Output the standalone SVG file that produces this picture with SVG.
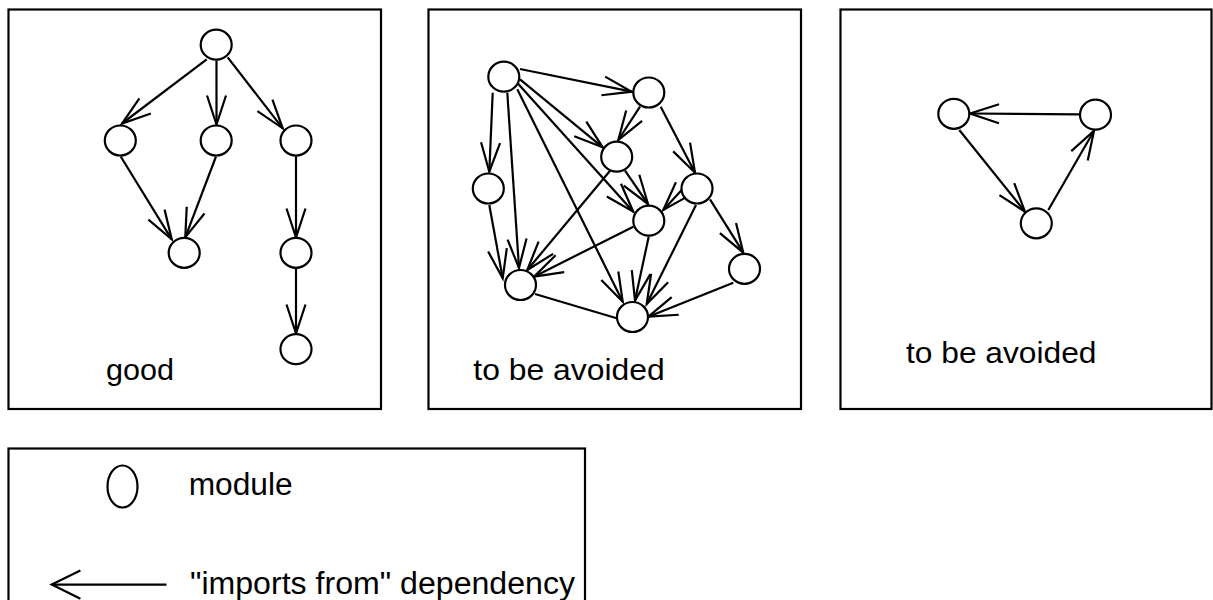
<svg xmlns="http://www.w3.org/2000/svg" width="1213" height="600" viewBox="0 0 1213 600">
  <style>
    .frame { fill: none; stroke: #000; stroke-width: 2.2; }
    .mod { fill: #fff; stroke: #000; stroke-width: 2.2; }
    .dep { fill: none; stroke: #000; stroke-width: 2.2; marker-end: url(#ah); }
    .plain { fill: none; stroke: #000; stroke-width: 2.2; }
    .lbl { font-family: "Liberation Sans", Arial, sans-serif; font-size: 29px; fill: #000; }
    .leg { font-family: "Liberation Sans", Arial, sans-serif; font-size: 31px; fill: #000; }
  </style>
  <defs>
    <marker id="ah" markerUnits="userSpaceOnUse" viewBox="-32 -15 40 30" markerWidth="40" markerHeight="30" refX="0" refY="0" orient="auto" overflow="visible">
      <path d="M-29,-9.5 L0,0 L-29,9.5" fill="none" stroke="#000" stroke-width="2.2"/>
    </marker>
  </defs>
  <rect width="1213" height="600" fill="#fff"/>

  <!-- panel frames -->
  <g id="frames">
    <rect class="frame" x="8.5" y="9.5" width="372.5" height="399.5"/>
    <rect class="frame" x="428.5" y="9.5" width="372.5" height="399.5"/>
    <rect class="frame" x="840.5" y="9.5" width="371" height="399.5"/>
    <rect class="frame" x="8.5" y="448.5" width="576.5" height="170"/>
  </g>

  <!-- dependency arrows -->
  <g id="connectors">
    <!-- tree -->
    <path class="dep" d="M206.7,59.3 L122,123.5"/>
    <path class="dep" d="M216.5,60.5 L216.5,124.5"/>
    <path class="dep" d="M227.7,57.3 L282.7,128.3"/>
    <path class="dep" d="M120.7,156.5 L171.7,239.3"/>
    <path class="dep" d="M216,156.5 L185.3,237.3"/>
    <path class="dep" d="M296,156 L296,237.5"/>
    <path class="dep" d="M296,268.3 L296,333.5"/>
    <!-- tangled graph -->
    <path class="dep" d="M520,69 L631.7,91.7"/>
    <path class="dep" d="M492.7,92.7 L489.3,171.7"/>
    <path class="dep" d="M507.3,92.7 L519,268"/>
    <path class="dep" d="M517.3,89.3 L622.7,301.7"/>
    <path class="dep" d="M520,79.3 L602.7,147.3"/>
    <path class="dep" d="M518.3,84 L633.3,211.7"/>
    <path class="dep" d="M640,106.7 L618.3,140"/>
    <path class="dep" d="M660.7,106.7 L695,172.7"/>
    <path class="dep" d="M610.7,170 L527.3,270"/>
    <path class="dep" d="M625,170.7 L648,204"/>
    <path class="dep" d="M489.3,205 L502.7,278.3"/>
    <path class="dep" d="M681.7,190 L663.3,210"/>
    <path class="dep" d="M710,199.3 L743.3,252.7"/>
    <path class="dep" d="M696,205 L646.7,304"/>
    <path class="dep" d="M633.3,226.7 L534,276.7"/>
    <path class="dep" d="M648.7,236.7 L635,300.5"/>
    <path class="dep" d="M733.3,282.7 L648.3,316.7"/>
    <path class="plain" d="M535,294 L616.7,318.3"/>
    <!-- cycle -->
    <path class="dep" d="M1079.3,114.3 L970,113.5"/>
    <path class="dep" d="M959.3,130 L1025,211.7"/>
    <path class="dep" d="M1048.3,210 L1094,130.7"/>
  </g>

  <!-- modules: tree -->
  <g id="tree-nodes">
    <ellipse id="t1" class="mod" cx="216.2" cy="44.7" rx="15.5" ry="15"/>
    <ellipse id="t2" class="mod" cx="120.3" cy="140.5" rx="15.5" ry="15"/>
    <ellipse id="t3" class="mod" cx="216.2" cy="140.5" rx="15.5" ry="15"/>
    <ellipse id="t4" class="mod" cx="296" cy="140.5" rx="15.5" ry="15"/>
    <ellipse id="t5" class="mod" cx="184.2" cy="252.8" rx="15.5" ry="15"/>
    <ellipse id="t6" class="mod" cx="296" cy="252.8" rx="15.5" ry="15"/>
    <ellipse id="t7" class="mod" cx="296" cy="349.2" rx="15.5" ry="15"/>
  </g>

  <!-- modules: tangled graph -->
  <g id="mesh-nodes">
    <ellipse id="m1" class="mod" cx="503.8" cy="76.7" rx="15.5" ry="15"/>
    <ellipse id="m2" class="mod" cx="648.8" cy="92.5" rx="15.5" ry="15"/>
    <ellipse id="m3" class="mod" cx="616.7" cy="156.7" rx="15.5" ry="15"/>
    <ellipse id="m4" class="mod" cx="488.3" cy="188.5" rx="15.5" ry="15"/>
    <ellipse id="m5" class="mod" cx="697" cy="188.5" rx="15.5" ry="15"/>
    <ellipse id="m6" class="mod" cx="648.8" cy="220.7" rx="15.5" ry="15"/>
    <ellipse id="m7" class="mod" cx="744.5" cy="268.8" rx="15.5" ry="15"/>
    <ellipse id="m8" class="mod" cx="520.5" cy="285" rx="15.5" ry="15"/>
    <ellipse id="m9" class="mod" cx="632.5" cy="317" rx="15.5" ry="15"/>
  </g>

  <!-- modules: cycle -->
  <g id="cycle-nodes">
    <ellipse id="c1" class="mod" cx="953.8" cy="113.8" rx="15.5" ry="15"/>
    <ellipse id="c2" class="mod" cx="1095.5" cy="114.7" rx="15.5" ry="15"/>
    <ellipse id="c3" class="mod" cx="1036.3" cy="223.3" rx="15.5" ry="15"/>
  </g>

  <!-- captions -->
  <g id="captions">
    <text class="lbl" x="106" y="380" textLength="68" lengthAdjust="spacingAndGlyphs">good</text>
    <text class="lbl" x="473.3" y="380" textLength="191.5" lengthAdjust="spacingAndGlyphs">to be avoided</text>
    <text class="lbl" x="906" y="363.3" textLength="190.5" lengthAdjust="spacingAndGlyphs">to be avoided</text>
  </g>

  <!-- legend -->
  <g id="legend">
    <ellipse class="mod" cx="122.5" cy="486.5" rx="15" ry="21"/>
    <text class="leg" x="188.7" y="494.6" textLength="104" lengthAdjust="spacingAndGlyphs">module</text>
    <path class="plain" d="M51.7,584.6 L166.5,584.6"/>
    <path class="plain" d="M80.4,570.4 L51.7,584.6 L80.4,598.8"/>
    <text class="leg" x="190" y="594" textLength="385" lengthAdjust="spacingAndGlyphs">"imports from" dependency</text>
  </g>
</svg>
